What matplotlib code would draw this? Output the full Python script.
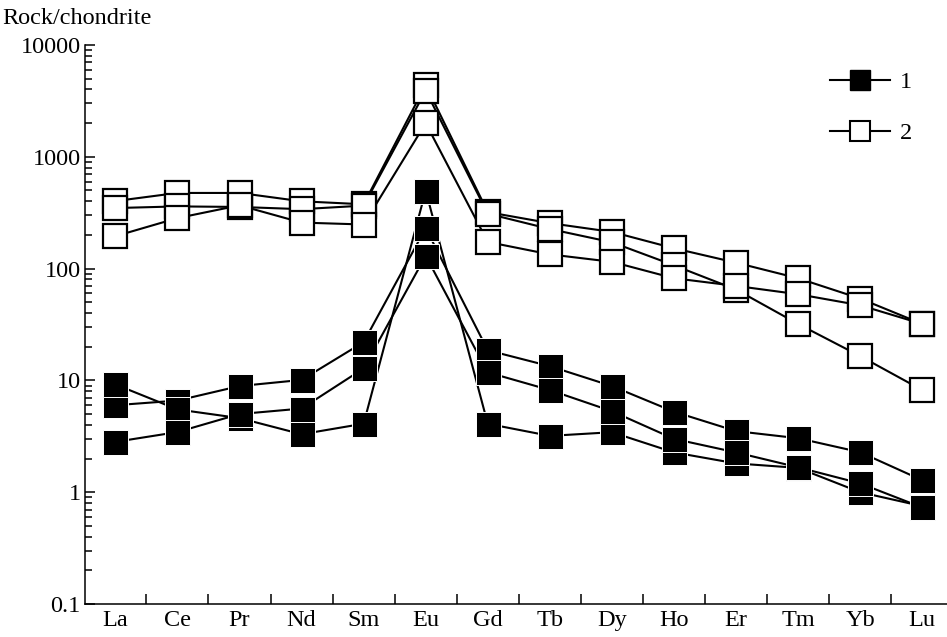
import matplotlib
matplotlib.use("Agg")
import matplotlib.pyplot as plt
from matplotlib.lines import Line2D
from matplotlib.ticker import LogLocator, NullFormatter, FixedLocator

plt.rcParams['font.family'] = ['Liberation Serif', 'DejaVu Serif']
FS = 17.5

elements = ['La', 'Ce', 'Pr', 'Nd', 'Sm', 'Eu', 'Gd', 'Tb', 'Dy', 'Ho', 'Er', 'Tm', 'Yb', 'Lu']

# group 1 (filled squares)
s1_a = [6.0, 6.6, 8.9, 10.1, 22, 230, 18.6, 13.4, 8.9, 5.25, 3.52, 3.04, 2.28, 1.28]
s1_b = [9.2, 5.5, 4.6, 3.3, 4.1, 498, 4.09, 3.19, 3.44, 2.27, 1.81, 1.65, 1.0, 0.75]
s1_c = [2.82, 3.45, 5.0, 5.6, 12.8, 130, 11.8, 8.2, 5.3, 3.0, 2.27, 1.67, 1.2, 0.73]

# group 2 (open squares)
s2_a = [402, 475, 475, 400, 376, 4400, 320, 255, 213, 152, 113, 82, 54, 32]
s2_b = [348, 360, 356, 340, 366, 3900, 310, 226, 172, 107, 65, 32, 16.5, 8.2]
s2_c = [195, 283, 368, 258, 248, 2000, 173, 134, 115, 82, 70, 59, 47, 32]

group1 = [s1_a, s1_b, s1_c]
group2 = [s2_a, s2_b, s2_c]

fig = plt.figure(figsize=(9.47, 6.37), dpi=100)
ax = fig.add_axes([85 / 947, 33 / 637, 1 - 85 / 947, (604 - 45) / 637])

x = list(range(len(elements)))
lw = 1.5

# connecting lines first so the squares sit on top of them
for s in group2 + group1:
    ax.plot(x, s, color='black', lw=lw, zorder=2)

for s in group2:
    ax.plot(x, s, ls='none', marker='s', ms=17, mfc='white', mec='black',
            mew=1.6, zorder=3)
for s in group1:
    ax.plot(x, s, ls='none', marker='s', ms=18, mfc='black', mec='white',
            mew=0.7, zorder=4)

ax.set_yscale('log')
ax.set_ylim(0.1, 10000)
ax.set_xlim(-0.49, 13.4)

ax.set_yticks([0.1, 1, 10, 100, 1000, 10000])
ax.set_yticklabels(['0.1', '1', '10', '100', '1000', '10000'])
ax.yaxis.set_minor_locator(LogLocator(base=10, subs=range(2, 10)))
ax.yaxis.set_minor_formatter(NullFormatter())

ax.set_xticks(x)
ax.set_xticklabels(elements)
ax.xaxis.set_minor_locator(FixedLocator([i + 0.5 for i in range(13)]))

ax.tick_params(axis='x', which='major', length=0, pad=4, labelsize=FS)
ax.tick_params(axis='x', which='minor', direction='in', length=7.5, width=1.1)
ax.tick_params(axis='y', which='major', direction='in', length=7.5, width=1.1,
               pad=3, labelsize=FS)
ax.tick_params(axis='y', which='minor', direction='in', length=5, width=1.1)

for side in ['top', 'right']:
    ax.spines[side].set_visible(False)
for side in ['left', 'bottom']:
    ax.spines[side].set_linewidth(1.1)

fig.text(2 / 947, 1 - 18 / 637, 'Rock/chondrite', fontsize=FS, va='center', ha='left')

handles = [
    Line2D([], [], color='black', lw=lw, marker='s', ms=15, mfc='black', mec='black'),
    Line2D([], [], color='black', lw=lw, marker='s', ms=14, mfc='white', mec='black', mew=1.5),
]
ax.legend(handles, ['1', '2'], loc='upper left', bbox_to_anchor=(830 / 947, 1 - 71 / 637),
          bbox_transform=fig.transFigure, frameon=False, fontsize=FS,
          handlelength=2.47, handletextpad=0.41, labelspacing=1.2,
          borderpad=0, borderaxespad=0)

fig.savefig('out.png', dpi=100)
